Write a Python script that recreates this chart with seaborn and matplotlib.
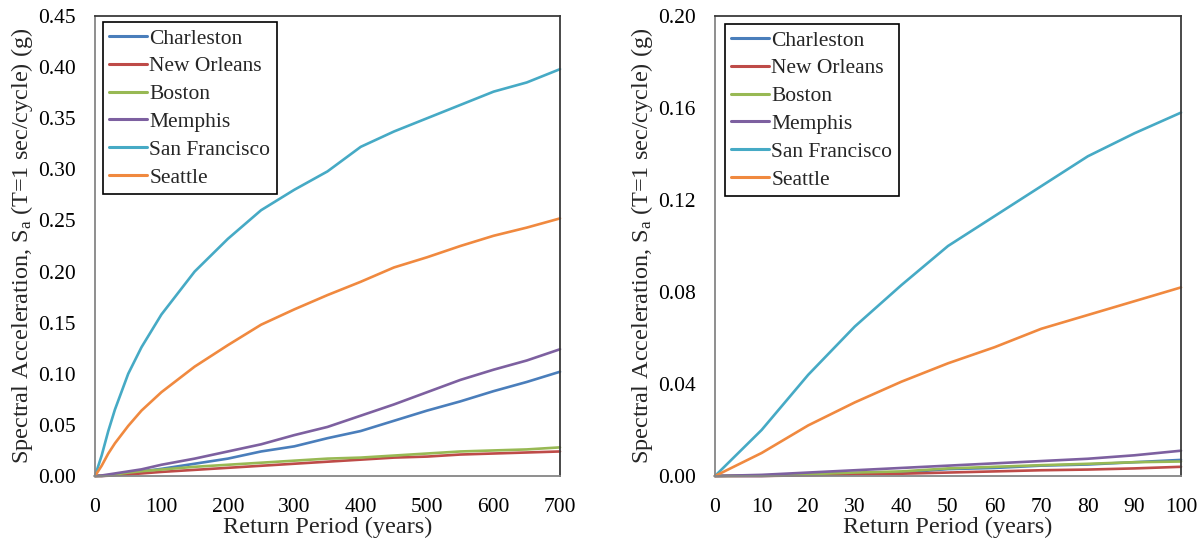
import numpy as np
import pandas as pd
import matplotlib
matplotlib.use("Agg")
import matplotlib.pyplot as plt
import seaborn as sns

# ---------------- data ----------------
cities = ["Charleston", "New Orleans", "Boston", "Memphis", "San Francisco", "Seattle"]
colors = ["#4A7EBB", "#BE4B48", "#98B954", "#7D60A0", "#46AAC5", "#F0893F"]

# Left panel: return period 0-700 years
years_long = [0, 10, 20, 30, 50, 70, 100, 150, 200, 250, 300, 350, 400, 450, 500, 550, 600, 650, 700]
charleston_long = [0, 0, 0.0005, 0.001, 0.003, 0.0045, 0.007, 0.012, 0.017, 0.024, 0.029, 0.037, 0.044, 0.054, 0.064, 0.073, 0.083, 0.092, 0.102]
new_orleans_long = [0, 0, 0.0003, 0.0008, 0.0015, 0.0025, 0.004, 0.006, 0.008, 0.010, 0.012, 0.014, 0.016, 0.018, 0.019, 0.021, 0.022, 0.023, 0.024]
boston_long = [0, 0.0002, 0.0008, 0.0015, 0.0033, 0.0047, 0.0063, 0.009, 0.011, 0.013, 0.015, 0.017, 0.018, 0.020, 0.022, 0.024, 0.025, 0.026, 0.028]
memphis_long = [0, 0.0005, 0.0015, 0.0025, 0.0045, 0.0065, 0.011, 0.017, 0.024, 0.031, 0.040, 0.048, 0.059, 0.070, 0.082, 0.094, 0.104, 0.113, 0.124]
san_francisco_long = [0, 0.020, 0.044, 0.065, 0.100, 0.126, 0.158, 0.200, 0.232, 0.260, 0.280, 0.298, 0.322, 0.337, 0.350, 0.363, 0.376, 0.385, 0.398]
seattle_long = [0, 0.010, 0.022, 0.032, 0.049, 0.064, 0.082, 0.107, 0.128, 0.148, 0.163, 0.177, 0.190, 0.204, 0.214, 0.225, 0.235, 0.243, 0.252]

# Right panel: return period 0-100 years
years_short = [0, 10, 20, 30, 40, 50, 60, 70, 80, 90, 100]
charleston_short = [0, 0, 0.0005, 0.001, 0.0015, 0.003, 0.0035, 0.0045, 0.005, 0.006, 0.007]
new_orleans_short = [0, 0, 0.0003, 0.0008, 0.001, 0.0015, 0.002, 0.0025, 0.0028, 0.0033, 0.004]
boston_short = [0, 0.0002, 0.0008, 0.0015, 0.002, 0.0033, 0.004, 0.0047, 0.0053, 0.006, 0.0063]
memphis_short = [0, 0.0005, 0.0015, 0.0025, 0.0035, 0.0045, 0.0055, 0.0065, 0.0075, 0.009, 0.011]
san_francisco_short = [0, 0.020, 0.044, 0.065, 0.083, 0.100, 0.113, 0.126, 0.139, 0.149, 0.158]
seattle_short = [0, 0.010, 0.022, 0.032, 0.041, 0.049, 0.056, 0.064, 0.070, 0.076, 0.082]

x_ticks_long = [0, 100, 200, 300, 400, 500, 600, 700]
y_ticks_long = [0.00, 0.05, 0.10, 0.15, 0.20, 0.25, 0.30, 0.35, 0.40, 0.45]
x_ticks_short = [0, 10, 20, 30, 40, 50, 60, 70, 80, 90, 100]
y_ticks_short = [0.00, 0.04, 0.08, 0.12, 0.16, 0.20]

xlabel = "Return Period (years)"
ylabel = r"Spectral Acceleration, S$_{\mathrm{a}}$ (T=1 sec/cycle) (g)"


def to_long(years, series):
    frames = []
    for name, vals in zip(cities, series):
        frames.append(pd.DataFrame({"year": years, "sa": vals, "city": name}))
    return pd.concat(frames, ignore_index=True)


df_long = to_long(years_long, [charleston_long, new_orleans_long, boston_long,
                               memphis_long, san_francisco_long, seattle_long])
df_short = to_long(years_short, [charleston_short, new_orleans_short, boston_short,
                                 memphis_short, san_francisco_short, seattle_short])

# ---------------- style ----------------
sns.set_style("white")
plt.rcParams["font.family"] = ["Liberation Serif", "DejaVu Serif"]
plt.rcParams["mathtext.fontset"] = "custom"
plt.rcParams["mathtext.rm"] = "Liberation Serif"
plt.rcParams["mathtext.it"] = "Liberation Serif:italic"
plt.rcParams["mathtext.bf"] = "Liberation Serif:bold"

FS = 15.5
FS_LABEL = 17.5
fig = plt.figure(figsize=(12.03, 5.48), dpi=100)
ax1 = fig.add_axes([95 / 1203, 1 - 476 / 548, 465 / 1203, 460 / 548])
ax2 = fig.add_axes([715 / 1203, 1 - 476 / 548, 466 / 1203, 460 / 548])

palette = dict(zip(cities, colors))


def draw(ax, df, xlim, ylim, xt, yt, legend_anchor):
    sns.lineplot(data=df, x="year", y="sa", hue="city", hue_order=cities,
                 palette=palette, linewidth=1.9, ax=ax, legend=True, clip_on=False)
    ax.set_xlim(*xlim)
    ax.set_ylim(*ylim)
    ax.set_xticks(xt)
    ax.set_yticks(yt)
    ax.set_yticklabels([f"{v:.2f}" for v in yt])
    ax.set_xticklabels([str(v) for v in xt])
    ax.tick_params(axis="both", direction="out", length=5, width=1, color="#868686",
                   labelsize=FS, labelcolor="black")
    ax.tick_params(axis="x", pad=11)
    ax.tick_params(axis="y", pad=9)
    ax.set_xlabel(xlabel, fontsize=FS_LABEL, labelpad=0)
    ax.set_ylabel(ylabel, fontsize=FS_LABEL, labelpad=2)
    for side in ["left", "bottom"]:
        ax.spines[side].set_color("#868686")
        ax.spines[side].set_linewidth(1.3)
    for side in ["top", "right"]:
        ax.spines[side].set_color("#3a3a3a")
        ax.spines[side].set_linewidth(1.3)
    handles, labels = ax.get_legend_handles_labels()
    leg = ax.legend(handles, labels, loc="upper left", bbox_to_anchor=legend_anchor,
                    bbox_transform=ax.transAxes, fontsize=FS, frameon=True,
                    fancybox=False, edgecolor="black", framealpha=1,
                    borderpad=0.3, labelspacing=0.36, handlelength=1.75,
                    handletextpad=0.1, borderaxespad=0)
    leg.get_frame().set_linewidth(1.2)
    for h in leg.get_lines():
        h.set_linewidth(2.2)


draw(ax1, df_long, (0, 700), (0, 0.45), x_ticks_long, y_ticks_long,
     (8 / 465, 1 - 6 / 460))
draw(ax2, df_short, (0, 100), (0, 0.20), x_ticks_short, y_ticks_short,
     (10 / 466, 1 - 8 / 460))

fig.savefig("out.png", dpi=100)
